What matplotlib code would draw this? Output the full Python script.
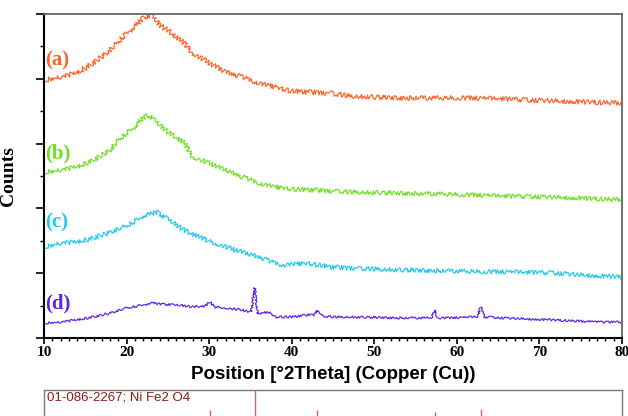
import matplotlib
matplotlib.use("Agg")
import matplotlib.pyplot as plt
from matplotlib.ticker import MultipleLocator

# ---------------- data ----------------
deg_a = [10, 12, 14, 16, 18, 20, 21, 22, 23, 24, 25, 26, 27, 28, 30, 32, 34, 36, 38,
         40, 42, 44.6, 47, 49.5, 53, 56.7, 60.4, 65.2, 68.8, 72.5, 76.1, 80]
cnt_a = [796, 805, 818, 849, 889, 941, 960, 988, 997, 966, 950, 929, 910, 880, 849, 821,
         805, 787, 775, 762, 759, 756, 747, 744, 741, 741, 741, 738, 734, 731, 728, 725]

deg_b = [10, 12, 14, 16, 18, 19, 20, 21, 22, 22.5, 23, 24, 25, 26, 27, 28, 29, 30, 32,
         34, 36, 38, 40, 42, 47, 53, 59.3, 65, 71.3, 77.5, 80]
cnt_b = [512, 518, 528, 549, 580, 611, 633, 651, 679, 688, 682, 657, 636, 620, 602, 559,
         549, 540, 518, 497, 478, 466, 460, 457, 451, 447, 444, 438, 435, 429, 426]

deg_c = [10, 12, 14, 16, 18, 20, 21, 22, 23, 23.7, 24, 25, 26, 27, 28, 30, 32, 34, 36,
         38, 39, 40, 42, 44.6, 47, 53, 59.2, 65.3, 71.3, 77.4, 80]
cnt_c = [281, 293, 296, 309, 327, 346, 361, 376, 383, 389, 383, 367, 349, 333, 321, 299,
         281, 265, 250, 231, 225, 228, 231, 219, 216, 210, 207, 204, 201, 191, 188]

deg_d = [10, 12, 14, 16, 18, 20, 22, 23, 24, 26, 28, 29.5, 30.1, 30.6, 32, 34, 35.1,
         35.5, 35.9, 37.2, 38, 40, 42, 42.7, 43.1, 43.6, 45, 47, 53, 56.9, 57.3, 57.7,
         59.2, 62.5, 62.9, 63.3, 65.3, 71.3, 77.4, 80]
cnt_d = [46, 49, 56, 65, 77, 93, 102, 108, 105, 102, 96, 99, 111, 96, 93, 86, 80,
         154, 74, 80, 65, 65, 71, 71, 86, 68, 65, 65, 62, 62, 86, 62,
         62, 65, 96, 65, 62, 56, 49, 49]

series_labels = ["(a)", "(b)", "(c)", "(d)"]
label_y = [858, 568, 355, 108]

ref_pos = [30.1, 35.5, 43.1, 57.3, 62.9]
ref_int = [50, 100, 50, 45, 52]
ref_title = "01-086-2267; Ni Fe2 O4"

x_ticks = [10, 20, 30, 40, 50, 60, 70, 80]

# ---------------- styling ----------------
colors = ["#FF6224", "#6EE024", "#22C6F0", "#5A24EE"]
sketch = [2.4, 2.2, 2.2, 1.1]
serif = ["Liberation Serif", "DejaVu Serif"]
sans = ["Liberation Sans", "DejaVu Sans"]

fig = plt.figure(figsize=(6.28, 4.16), dpi=100)
ax = fig.add_axes([44 / 628, 1 - 338 / 416, 578 / 628, 324 / 416])

for (xs, ys), c, sk in zip([(deg_a, cnt_a), (deg_b, cnt_b), (deg_c, cnt_c), (deg_d, cnt_d)],
                           colors, sketch):
    ln, = ax.plot(xs, ys, color=c, lw=0.85)
    ln.set_sketch_params(scale=sk, length=2.5, randomness=3)

for lab, yv, c in zip(series_labels, label_y, colors):
    ax.text(10.1, yv, lab, color=c, fontsize=15, fontweight="bold",
            family=serif, ha="left", va="center")

ax.set_xlim(10, 80)
ax.set_ylim(0, 1000)
ax.set_xticks(x_ticks)
ax.set_xticklabels([str(t) for t in x_ticks], fontsize=11, fontweight="bold", family=serif)
ax.xaxis.set_minor_locator(MultipleLocator(1))
ax.yaxis.set_major_locator(MultipleLocator(200))
ax.yaxis.set_minor_locator(MultipleLocator(100))
ax.set_yticklabels([])
ax.tick_params(axis="x", which="major", direction="out", length=4, width=1.2, pad=2)
ax.tick_params(axis="x", which="minor", direction="out", length=2.5, width=1.0)
ax.tick_params(axis="y", which="major", direction="out", length=6, width=1.2)
ax.tick_params(axis="y", which="minor", direction="out", length=3, width=1.0)

for s in ["left", "bottom"]:
    ax.spines[s].set_color("black")
    ax.spines[s].set_linewidth(1.5)
for s in ["top", "right"]:
    ax.spines[s].set_color("#666666")
    ax.spines[s].set_linewidth(1.3)

ax.set_xlabel("Position [°2Theta] (Copper (Cu))", fontsize=13.5, fontweight="bold",
              family=sans, labelpad=5)
ax.set_ylabel("Counts", fontsize=14, fontweight="bold", family=serif, labelpad=10)

# ---------------- reference pattern panel ----------------
ax2 = fig.add_axes([44 / 628, 1 - 430 / 416, 578 / 628, 40 / 416])
ax2.set_xlim(10, 80)
ax2.set_ylim(0, 100)
ax2.vlines(ref_pos, 0, ref_int, colors="#C8646E", lw=1.0)
ax2.text(0.006, 0.97, ref_title, transform=ax2.transAxes, color="#8B1A1A",
         fontsize=9.5, family=sans, ha="left", va="top")
ax2.set_xticks([])
ax2.set_yticks([])
for s in ax2.spines.values():
    s.set_color("#7A7A7A")
    s.set_linewidth(1.0)

fig.savefig("out.png", dpi=100)
